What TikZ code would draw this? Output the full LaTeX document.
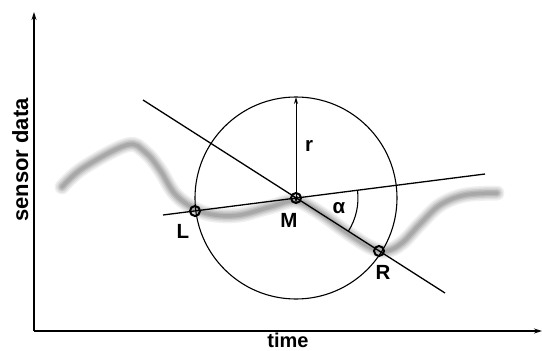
\documentclass[tikz,border=0pt]{standalone}
\usepackage{fontspec}
\setmainfont{Liberation Sans}
\usetikzlibrary{calc,arrows.meta}
\begin{document}
\begin{tikzpicture}[x=1pt,y=-1pt,
  axis/.style={line width=1.1pt,-{Stealth[length=8pt,width=5pt]}},
  geo/.style={line width=1.3pt},
  pt/.style={circle,draw,line width=2pt,minimum size=10pt,inner sep=0pt},
  lbl/.style={font=\fontsize{20.5}{24}\selectfont\bfseries},
  axlbl/.style={font=\fontsize{22}{26}\selectfont\bfseries,inner sep=0pt},
  blur/.style={line cap=round,line join=round}]
\useasboundingbox (0,0) rectangle (542,351);
% gray blurred data curve
\def\curve{plot[smooth,tension=0.6] coordinates {(62,187) (83,168) (127,145) (145,152) (160,170) (175,194) (195,209) (215,215) (240,215) (270,207) (296,201) (320,213) (345,231) (370,247) (386,251) (402,243) (420,224) (440,205) (465,195) (497,193)}}
\draw[blur,black!6,line width=15pt] \curve;
\draw[blur,black!12,line width=12pt] \curve;
\draw[blur,black!20,line width=9pt] \curve;
\draw[blur,black!28,line width=6pt] \curve;
\draw[blur,black!34,line width=3.5pt] \curve;
% axes
\coordinate (O) at (34,331);
\coordinate (Ytop) at (34,12);
\coordinate (Xend) at (542,331);
\draw[axis] (O) -- (Ytop);
\draw[axis] (O) -- (Xend);
\node[axlbl,font=\fontsize{20}{24}\selectfont\bfseries,anchor=base] (time) at (288,347.5) {time};
\node[axlbl,rotate=90,anchor=base] (sensor) at (28,160) {sensor data};
% geometry
\coordinate (M) at (296,198);
\coordinate (L) at (195,211);
\coordinate (R) at (379,251);
\coordinate (LMa) at (163,215);
\coordinate (LMb) at (485,174);
\coordinate (MRa) at (143,100);
\coordinate (MRb) at (445,293);
\coordinate (Top) at (296,97);
\draw[line width=1.1pt] (M) circle[radius=101];
\draw[geo] (LMa) -- (LMb);
\draw[geo] (MRa) -- (MRb);
\draw[line width=1pt,{Stealth[length=7pt,width=4pt]}-{Stealth[length=7pt,width=4pt]}] ([yshift=-5pt]M) -- (Top);
\draw[line width=1.1pt] ($(M)+(-7.3:62)$) arc[start angle=-7.3,end angle=32.6,radius=62];
\node[pt] (Mp) at (M) {};
\node[pt] (Lp) at (L) {};
\node[pt] (Rp) at (R) {};
\node[lbl] (Ltxt) at (183,231) {L};
\node[lbl] (Mtxt) at (289,220) {M};
\node[lbl] (Rtxt) at (383,272) {R};
\node[lbl] (rtxt) at (309,146) {r};
\node[lbl] (atxt) at (339,208) {α};
\end{tikzpicture}
\end{document}
